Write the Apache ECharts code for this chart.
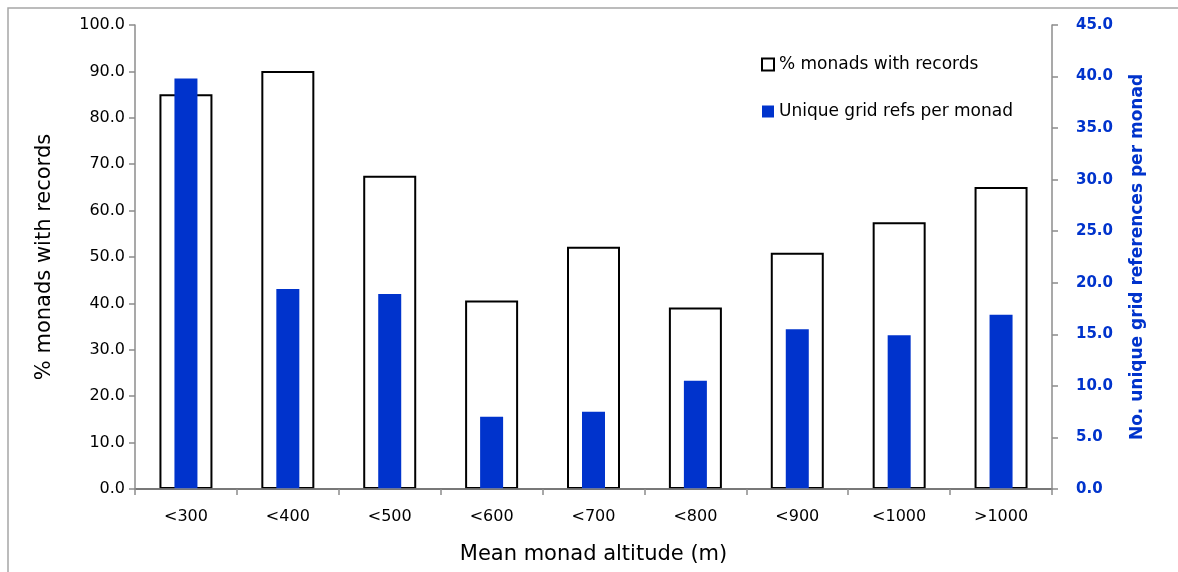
<!DOCTYPE html>
<html>
<head>
<meta charset="utf-8">
<script src="https://cdn.jsdelivr.net/npm/echarts@6/dist/echarts.min.js"></script>
<style>
  html, body { margin: 0; padding: 0; background: #fff; overflow: hidden; }
  #chart { width: 1178px; height: 572px; }
</style>
</head>
<body>
<div id="chart"></div>
<script>
// Altitude bands (mean monad altitude, m)
const categories = ['<300', '<400', '<500', '<600', '<700', '<800', '<900', '<1000', '>1000'];
// % of monads with at least one record
const pctMonadsWithRecords = [85.1, 90.1, 67.5, 40.6, 52.2, 39.1, 50.9, 57.5, 65.1];
// Mean number of unique grid references per monad
const uniqueRefsPerMonad = [39.8, 19.4, 18.9, 7.0, 7.5, 10.5, 15.5, 14.9, 16.9];

const FONT = '"DejaVu Sans", "Open Sans", sans-serif';
const BLUE = '#0033cc';
const AXIS_GREY = '#8c8c8c';

const chart = echarts.init(document.getElementById('chart'), null, { renderer: 'canvas' });

chart.setOption({
  animation: false,
  backgroundColor: '#ffffff',
  textStyle: { fontFamily: FONT },
  grid: { left: 135, top: 25, width: 917, height: 464, containLabel: false },
  // outer chart-area frame (top and left edges)
  graphic: [
    { type: 'polyline', shape: { points: [[8, 600], [8, 8], [1200, 8]] }, style: { stroke: '#a6a6a6', lineWidth: 1.5, fill: null } }
  ],
  legend: {
    orient: 'vertical',
    left: 761,
    top: 56,
    padding: 0,
    itemGap: 30,
    itemWidth: 12,
    itemHeight: 12,
    icon: 'rect',
    textStyle: { fontFamily: FONT, fontSize: 17, color: '#000' },
    data: ['% monads with records', 'Unique grid refs per monad']
  },
  xAxis: [
    {
      type: 'category',
      position: 'bottom',
      data: categories,
      z: 5,
      axisLine: { show: true, lineStyle: { color: AXIS_GREY, width: 1.5 } },
      axisTick: { show: true, inside: false, length: 6, lineStyle: { color: AXIS_GREY, width: 1.5 } },
      axisLabel: { color: '#000', fontSize: 16, fontFamily: FONT, margin: 20 },
      name: 'Mean monad altitude (m)',
      nameLocation: 'middle',
      nameGap: 55,
      nameTextStyle: { color: '#000', fontSize: 21, fontFamily: FONT }
    },
    {
      type: 'category',
      position: 'top',
      data: categories,
      axisLine: { show: true, lineStyle: { color: '#000', width: 1.5 } },
      axisTick: { show: false },
      axisLabel: { show: false }
    }
  ],
  yAxis: [
    {
      type: 'value',
      position: 'left',
      min: 0,
      max: 100,
      interval: 10,
      z: 5,
      axisLine: { show: true, lineStyle: { color: AXIS_GREY, width: 1.5 } },
      axisTick: { show: true, inside: false, length: 6, lineStyle: { color: AXIS_GREY, width: 1.5 } },
      splitLine: { show: false },
      axisLabel: {
        color: '#000', fontSize: 16, fontFamily: FONT, margin: 10,
        formatter: v => v.toFixed(1)
      },
      name: '% monads with records',
      nameLocation: 'middle',
      nameGap: 80,
      nameRotate: 90,
      nameTextStyle: { color: '#000', fontSize: 21, fontFamily: FONT }
    },
    {
      type: 'value',
      position: 'right',
      min: 0,
      max: 45,
      interval: 5,
      z: 5,
      axisLine: { show: true, lineStyle: { color: AXIS_GREY, width: 1.5 } },
      axisTick: { show: true, inside: false, length: 6, lineStyle: { color: AXIS_GREY, width: 1.5 } },
      splitLine: { show: false },
      axisLabel: {
        color: BLUE, fontSize: 15, fontWeight: 'bold', fontFamily: FONT, margin: 24,
        formatter: v => v.toFixed(1)
      },
      name: 'No. unique grid references per monad',
      nameLocation: 'middle',
      nameGap: 77,
      nameRotate: 90,
      nameTextStyle: { color: BLUE, fontSize: 17, fontWeight: 'bold', fontFamily: FONT }
    }
  ],
  series: [
    {
      name: '% monads with records',
      type: 'bar',
      xAxisIndex: 0,
      yAxisIndex: 0,
      data: pctMonadsWithRecords,
      barWidth: 53,
      itemStyle: { color: '#ffffff', borderColor: '#000000', borderWidth: 2 },
      z: 2
    },
    {
      name: 'Unique grid refs per monad',
      type: 'bar',
      xAxisIndex: 1,
      yAxisIndex: 1,
      data: uniqueRefsPerMonad,
      barWidth: 23,
      itemStyle: { color: BLUE },
      z: 3
    }
  ]
});
</script>
</body>
</html>
